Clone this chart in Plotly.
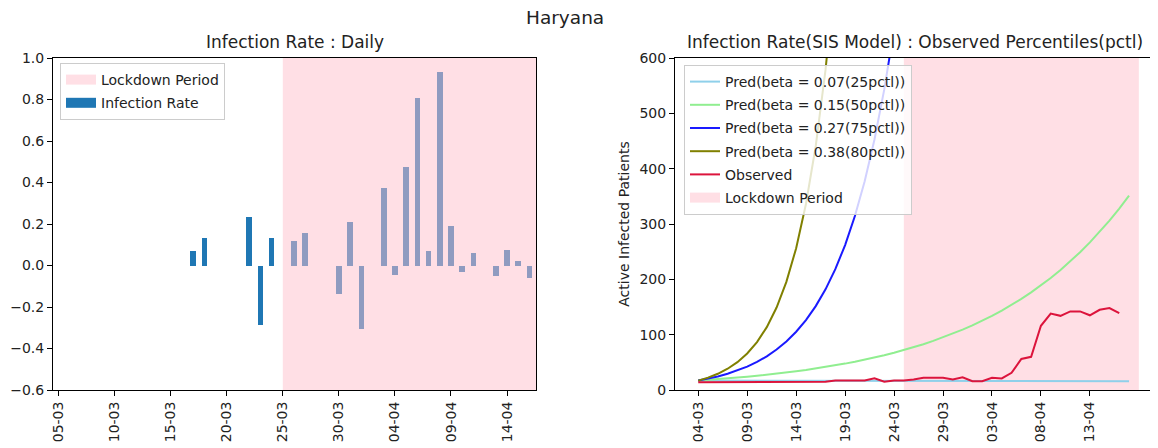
import pandas as pd
import plotly.graph_objects as go

STATE = "Haryana"
LOCKDOWN_START = "2020-03-25"
LOCKDOWN_END = "2020-04-18"

# ---- left panel: daily infection rate ----
rate_dates = pd.date_range("2020-03-05", "2020-04-16", freq="D")
infection_rate = [
    0, 0, 0, 0, 0, 0, 0, 0, 0, 0, 0, 0,            # 05-03 .. 16-03
    0.071, 0.133, 0, 0, 0, 0.235, -0.286, 0.133,   # 17-03 .. 24-03
    0, 0.118, 0.158, 0, 0, -0.136, 0.211,          # 25-03 .. 31-03
    -0.304, 0, 0.375, -0.045, 0.476, 0.806, 0.071, 0.933,   # 01-04 .. 08-04
    0.190, -0.029, 0.060, 0, -0.049, 0.074, 0.021, -0.061,  # 09-04 .. 16-04
]
left_tick_dates = ["2020-03-05", "2020-03-10", "2020-03-15", "2020-03-20", "2020-03-25",
                   "2020-03-30", "2020-04-04", "2020-04-09", "2020-04-14"]
left_tick_text = ["05-03", "10-03", "15-03", "20-03", "25-03", "30-03", "04-04", "09-04", "14-04"]

# ---- right panel: SIS model predictions vs observed ----
model_dates = pd.date_range("2020-03-04", "2020-04-17", freq="D")
pred_025 = [17, 17, 17, 17, 17, 17, 17, 17, 17, 17, 16.5, 16.5, 16.5, 16.5, 16.5,
            16.5, 16.5, 16.5, 16.5, 16.5, 16, 16, 16, 16, 16, 16, 16, 16, 16, 16,
            16, 16, 16, 16, 16, 16, 16, 16, 16, 16, 16, 16, 16, 16, 16]
pred_050 = [17.0, 18.2, 19.5, 20.9, 22.4, 24.0, 25.7, 27.5, 29.5, 31.6, 33.8, 36.2,
            38.8, 41.6, 44.5, 47.7, 51.1, 54.8, 58.7, 62.8, 67.3, 72.1, 77.3, 82.8,
            88.7, 95.0, 101.7, 109.0, 116.8, 125.1, 134.0, 143.5, 153.8, 164.7, 176.5,
            189.1, 202.5, 217.0, 232.4, 249.0, 266.8, 285.8, 306.1, 328.0, 351.4]
pred_075 = [17.0, 20.4, 24.5, 29.4, 35.3, 42.3, 50.8, 60.9, 73.1, 87.7, 105.3, 126.3,
            151.6, 181.9, 218.3, 262.0, 314.4, 377.3, 452.7, 543.2, 651.9]
pred_080 = [17.0, 22.3, 29.3, 38.4, 50.3, 66.0, 86.6, 113.6, 149.0, 195.4, 256.3,
            336.2, 441.0, 578.5, 758.8]
observed = [14, 14, 14, 14, 14, 14, 14, 14, 14, 14, 14, 14, 14,    # 04-03 .. 16-03
            15, 17, 17, 17, 17, 21, 15, 17, 17, 19, 22, 22, 22, 19, 23,   # 17-03 .. 31-03
            16, 16, 22, 21, 31, 56, 60, 116, 138, 134, 142, 142, 135, 145, 148, 139]  # 01-04 .. 16-04
pred_labels = ["Pred(beta = 0.07(25pctl))", "Pred(beta = 0.15(50pctl))",
               "Pred(beta = 0.27(75pctl))", "Pred(beta = 0.38(80pctl))"]
right_tick_dates = ["2020-03-04", "2020-03-09", "2020-03-14", "2020-03-19", "2020-03-24",
                    "2020-03-29", "2020-04-03", "2020-04-08", "2020-04-13"]
right_tick_text = ["04-03", "09-03", "14-03", "19-03", "24-03", "29-03", "03-04", "08-04", "13-04"]

# ---- styles ----
FONT = "DejaVu Sans"
TXT = "#222222"
BAR_BLUE = "#1f77b4"
PINK_A = "rgba(255,192,203,0.5)"
PINK_LEG = "#ffdfe5"
OFF = 8                      # page body margin of the html page
W, H = 1158 - OFF, 448 - OFF
ML, MR, MT, MB = 53 - OFF, 0, 58 - OFF, 58
PW = W - ML - MR
PH = H - MT - MB


def px_x(p):
    return (p - OFF - ML) / PW


def px_y(p):
    return 1 + (MT - (p - OFF)) / PH


fig = go.Figure()

# left: bars
fig.add_trace(go.Bar(x=rate_dates, y=infection_rate, marker=dict(color=BAR_BLUE, line=dict(width=0)),
                     width=0.5 * 86400000, showlegend=False, xaxis="x", yaxis="y"))
# left legend dummies
fig.add_trace(go.Scatter(x=[None], y=[None], mode="lines", line=dict(color=PINK_LEG, width=10),
                         name="Lockdown Period", xaxis="x", yaxis="y", legend="legend",
                         legendgroup="l1"))
fig.add_trace(go.Scatter(x=[None], y=[None], mode="lines", line=dict(color=BAR_BLUE, width=10),
                         name="Infection Rate", xaxis="x", yaxis="y", legend="legend",
                         legendgroup="l2"))

# right: prediction lines
pred_series = [pred_025, pred_050, pred_075, pred_080]
pred_colors = ["#8fd0ea", "#90ee90", "#1a1aff", "#808000"]
for lbl, ser, col in zip(pred_labels, pred_series, pred_colors):
    fig.add_trace(go.Scatter(x=model_dates[:len(ser)], y=ser, mode="lines", name=lbl,
                             line=dict(color=col, width=2), xaxis="x2", yaxis="y2",
                             legend="legend2", legendgroup=lbl))
fig.add_trace(go.Scatter(x=model_dates[:len(observed)], y=observed, mode="lines", name="Observed",
                         line=dict(color="#dc143c", width=2), xaxis="x2", yaxis="y2",
                         legend="legend2", legendgroup="obs"))
fig.add_trace(go.Scatter(x=[None], y=[None], mode="lines", name="Lockdown Period",
                         line=dict(color=PINK_LEG, width=10), xaxis="x2", yaxis="y2",
                         legend="legend2", legendgroup="lock"))

left_end = "2020-04-16 14:00"
shapes = [
    dict(type="rect", xref="x", yref="y domain", x0=LOCKDOWN_START, x1=left_end, y0=0, y1=1,
         fillcolor=PINK_A, line=dict(width=0), layer="above"),
    dict(type="rect", xref="x2", yref="y2 domain", x0=LOCKDOWN_START, x1=LOCKDOWN_END, y0=0, y1=1,
         fillcolor=PINK_A, line=dict(width=0), layer="below"),
]

axis_common = dict(showgrid=False, zeroline=False, showline=True, linecolor="black", linewidth=1,
                   ticks="outside", ticklen=5, tickwidth=1, tickcolor="black",
                   tickfont=dict(family=FONT, size=14, color=TXT))

fig.update_layout(
    width=W, height=H, margin=dict(l=ML, r=MR, t=MT, b=MB),
    paper_bgcolor="white", plot_bgcolor="white",
    font=dict(family=FONT, size=14, color=TXT),
    bargap=0,
    shapes=shapes,
    xaxis=dict(domain=[0, px_x(536)], range=["2020-03-04 12:00", left_end], type="date",
               tickvals=left_tick_dates, ticktext=left_tick_text, tickangle=-90, mirror=True,
               anchor="y", **axis_common),
    yaxis=dict(domain=[0, 1], range=[-0.6, 1.0], dtick=0.2, tick0=0, tickformat=".1f", mirror=True,
               anchor="x", **axis_common),
    xaxis2=dict(domain=[px_x(675), 1], range=["2020-03-01 15:00", "2020-04-19 23:00"], type="date",
                tickvals=right_tick_dates, ticktext=right_tick_text, tickangle=-90, mirror=True,
                anchor="y2", **axis_common),
    yaxis2=dict(domain=[0, 1], range=[0, 600], dtick=100, anchor="x2",
                title=dict(text="Active Infected Patients", font=dict(family=FONT, size=14, color=TXT),
                           standoff=6),
                **axis_common),
    legend=dict(x=px_x(60), y=px_y(63), xanchor="left", yanchor="top",
                bgcolor="rgba(255,255,255,0.8)", bordercolor="#cccccc", borderwidth=1,
                font=dict(family=FONT, size=14, color=TXT), itemwidth=30,
                traceorder="grouped", tracegroupgap=2),
    legend2=dict(x=px_x(684), y=px_y(65), xanchor="left", yanchor="top",
                 bgcolor="rgba(255,255,255,0.8)", bordercolor="#cccccc", borderwidth=1,
                 font=dict(family=FONT, size=14, color=TXT), itemwidth=30,
                 traceorder="grouped", tracegroupgap=2),
    annotations=[
        dict(text="Infection Rate : Daily", x=px_x(294.5), y=px_y(42), xref="paper", yref="paper",
             showarrow=False, xanchor="center", yanchor="middle",
             font=dict(family=FONT, size=17, color=TXT)),
        dict(text="Infection Rate(SIS Model) : Observed Percentiles(pctl)", x=px_x(915), y=px_y(42),
             xref="paper", yref="paper", showarrow=False, xanchor="center", yanchor="middle",
             font=dict(family=FONT, size=17, color=TXT)),
        dict(text=STATE, x=px_x(564.5), y=px_y(17), xref="paper", yref="paper",
             showarrow=False, xanchor="center", yanchor="middle",
             font=dict(family=FONT, size=18.5, color=TXT)),
    ],
)

fig.write_html("out.html")
